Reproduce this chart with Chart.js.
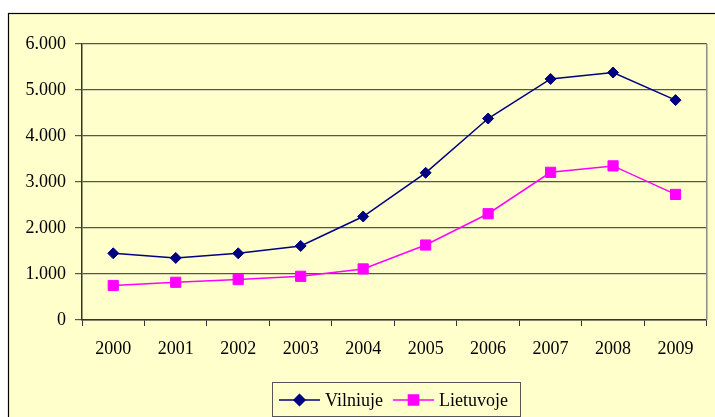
<!DOCTYPE html>
<html>
<head>
<meta charset="utf-8">
<script src="https://cdn.jsdelivr.net/npm/chart.js@4.4.1/dist/chart.umd.min.js"></script>
<style>
  html, body { margin: 0; padding: 0; background: #fff; }
  #wrap { width: 715px; height: 417px; }
</style>
</head>
<body>
<div id="wrap"><canvas id="grafikas"></canvas></div>
<script>
// Metai ir reikšmės
const metai = ["2000", "2001", "2002", "2003", "2004", "2005", "2006", "2007", "2008", "2009"];
const vilniuje = [1450, 1350, 1450, 1610, 2250, 3200, 4380, 5240, 5380, 4780];
const lietuvoje = [750, 820, 880, 950, 1110, 1630, 2310, 3210, 3350, 2730];
const yTicks = [0, 1000, 2000, 3000, 4000, 5000, 6000];

const FONAS = "#ffffcc";
const SRIFTAS = "'Liberation Serif', 'Times New Roman', serif";

// Fonas su rėmeliu ir dešinė braižymo srities riba
const fonasPlugin = {
  id: "fonasPlugin",
  beforeDraw(chart) {
    const ctx = chart.ctx;
    ctx.save();
    ctx.fillStyle = "#ffffff";
    ctx.fillRect(0, 0, chart.width, chart.height);
    ctx.fillStyle = FONAS;
    ctx.fillRect(8, 13, chart.width, chart.height);
    ctx.strokeStyle = "#000";
    ctx.lineWidth = 1.2;
    ctx.strokeRect(8.5, 13.5, chart.width + 10, chart.height + 10);
    ctx.restore();
  },
  beforeDatasetsDraw(chart) {
    const a = chart.chartArea;
    const ctx = chart.ctx;
    ctx.save();
    ctx.strokeStyle = "#8c8c80";
    ctx.lineWidth = 1.5;
    ctx.beginPath();
    ctx.moveTo(a.right, a.top);
    ctx.lineTo(a.right, a.bottom);
    ctx.stroke();
    ctx.restore();
  }
};

// Legenda rėmelyje apačioje
const legendaPlugin = {
  id: "legendaPlugin",
  afterDraw(chart) {
    const ctx = chart.ctx;
    ctx.save();
    ctx.fillStyle = FONAS;
    ctx.fillRect(272, 382, 248, 34);
    ctx.strokeStyle = "#555";
    ctx.lineWidth = 1;
    ctx.strokeRect(272.5, 382.5, 248, 34);

    const eilute = 400;
    const pradzios = [279, 393];
    ctx.font = "18px " + SRIFTAS;
    ctx.textBaseline = "middle";
    chart.data.datasets.forEach((ds, i) => {
      const x0 = pradzios[i];
      ctx.strokeStyle = ds.borderColor;
      ctx.lineWidth = 1.5;
      ctx.beginPath();
      ctx.moveTo(x0, eilute);
      ctx.lineTo(x0 + 41, eilute);
      ctx.stroke();
      ctx.fillStyle = ds.borderColor;
      Chart.helpers.drawPoint(ctx, {
        pointStyle: ds.pointStyle,
        radius: ds.pointRadius,
        borderWidth: 1
      }, x0 + 20.5, eilute);
      ctx.fillStyle = "#000";
      ctx.fillText(ds.label, x0 + 46, eilute + 1);
    });
    ctx.restore();
  }
};

new Chart(document.getElementById("grafikas"), {
  type: "line",
  data: {
    labels: metai,
    datasets: [
      {
        label: "Vilniuje",
        data: vilniuje,
        borderColor: "#000080",
        backgroundColor: "#000080",
        borderWidth: 1.5,
        pointStyle: "rectRot",
        pointRadius: 5.5,
        pointBorderWidth: 1,
        tension: 0
      },
      {
        label: "Lietuvoje",
        data: lietuvoje,
        borderColor: "#ff00ff",
        backgroundColor: "#ff00ff",
        borderWidth: 1.5,
        pointStyle: "rect",
        pointRadius: 7.2,
        pointBorderWidth: 1,
        tension: 0
      }
    ]
  },
  options: {
    responsive: true,
    maintainAspectRatio: false,
    animation: false,
    layout: { padding: { top: 44, right: 3, left: 0, bottom: 0 } },
    plugins: {
      legend: { display: false },
      tooltip: { enabled: false }
    },
    scales: {
      x: {
        offset: true,
        afterFit: s => { s.height = 97; },
        grid: {
          offset: true,
          drawOnChartArea: false,
          tickLength: 6,
          color: "#333"
        },
        border: { color: "#333", width: 1.5 },
        ticks: {
          color: "#000",
          padding: 12,
          maxRotation: 0,
          font: { family: SRIFTAS, size: 18 }
        }
      },
      y: {
        min: 0,
        max: 6000,
        afterFit: s => { s.width = 82; },
        afterBuildTicks: s => { s.ticks = yTicks.map(v => ({ value: v })); },
        grid: {
          color: "#555",
          lineWidth: 1.2,
          tickLength: 7
        },
        border: { color: "#333", width: 1.5 },
        ticks: {
          color: "#000",
          padding: 9,
          font: { family: SRIFTAS, size: 18 },
          callback: v => v === 0 ? "0" : (v / 1000).toFixed(0) + ".000"
        }
      }
    }
  },
  plugins: [fonasPlugin, legendaPlugin]
});
</script>
</body>
</html>
